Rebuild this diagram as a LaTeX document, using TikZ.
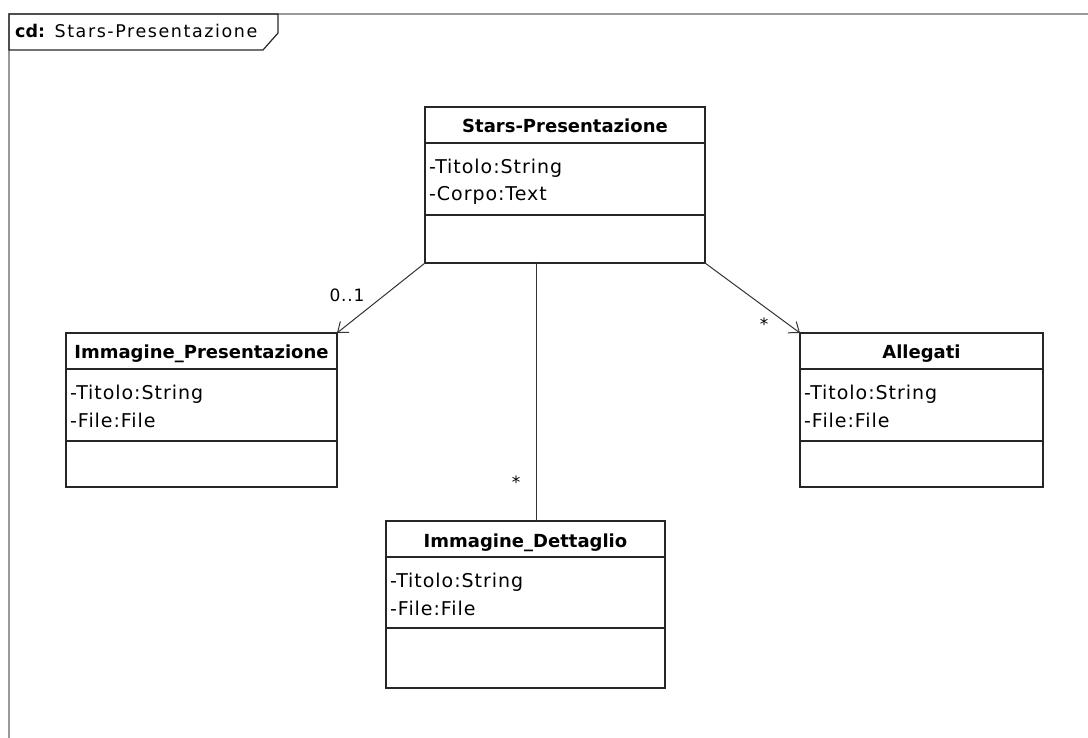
\documentclass[tikz,border=0pt]{standalone}
\usepackage{fontspec}
\setmainfont{DejaVu Sans}
\newfontfamily\namefont{DejaVu Sans}
\newfontfamily\attrfont[LetterSpace=5]{DejaVu Sans}
\newfontfamily\tabfont[LetterSpace=9]{DejaVu Sans}
\usetikzlibrary{arrows.meta}

\tikzset{
  classbox/.style={draw=black!85, line width=1.6pt, inner sep=0pt, outer sep=0pt},
  sepline/.style={draw=black!85, line width=1.6pt},
  titletext/.style={inner sep=0pt, anchor=base, font=\namefont\bfseries\fontsize{18}{21}\selectfont},
  attrtext/.style={inner sep=0pt, anchor=base west, font=\attrfont\fontsize{19}{23}\selectfont},
  multtext/.style={inner sep=0pt, font=\attrfont\fontsize{17}{20}\selectfont},
  assoc/.style={draw=black!80, line width=1pt},
  navarrow/.style={assoc, -{Straight Barb[length=9pt, width=14pt, line width=1pt]}},
  framegray/.style={draw=black!40, line width=1.8pt},
}

% #1 name, #2 left, #3 top, #4 right, #5 bottom,
% #6 first separator, #7 second separator, #8 title, #9 attributes
\newcommand\umlclassbox[9]{%
  \node[classbox, anchor=north west,
        minimum width={#4pt-#2pt}, minimum height={#5pt-#3pt}] (#1) at (#2,#3) {};
  \draw[sepline] (#2,#6) -- (#4,#6);
  \draw[sepline] (#2,#7) -- (#4,#7);
  \node[titletext] (#1-title) at ({(#2+#4)/2},#6-10) {#8};
  \foreach \a [count=\i] in {#9}
    \node[attrtext] (#1-attr\i) at (#2+4,#6+3+27.5*\i) {\a};
}

\begin{document}
\begin{tikzpicture}[x=1pt, y=-1pt]
  \useasboundingbox (0,0) rectangle (1088,738);

  % diagram frame and its name tab
  \draw[framegray] (9,738) -- (9,14) -- (1088,14);
  \draw[draw=black!85, line width=1.2pt] (9,14) -- (278,14) -- (278,33) -- (263,50) -- (9,50) -- cycle;
  \node[inner sep=0pt, anchor=base west, font=\tabfont\fontsize{17.5}{20}\selectfont]
    (framename) at (15,38) {{\namefont\bfseries cd:} Stars-Presentazione};

  % classes
  \umlclassbox{sp}{425}{107}{705}{263}{143}{215}{Stars-Presentazione}{-Titolo:String,-Corpo:Text}
  \umlclassbox{ip}{66}{333}{337}{487}{369}{441}{Immagine\_Presentazione}{-Titolo:String,-File:File}
  \umlclassbox{al}{800}{333}{1043}{487}{369}{441}{Allegati}{-Titolo:String,-File:File}
  \umlclassbox{dt}{386}{521}{665}{688}{557}{628}{Immagine\_Dettaglio}{-Titolo:String,-File:File}

  % associations
  \coordinate (mx) at (536,0);
  \draw[navarrow] (sp.south west) -- (ip.north east);
  \draw[navarrow] (sp.south east) -- (al.north west);
  \draw[assoc] (sp.south -| mx) -- (dt.north -| mx);

  % multiplicities
  \node[multtext] (m-ip) at (347,295) {0..1};
  \node[multtext] (m-al) at (764,324) {*};
  \node[multtext] (m-dt) at (516,482) {*};
\end{tikzpicture}
\end{document}
